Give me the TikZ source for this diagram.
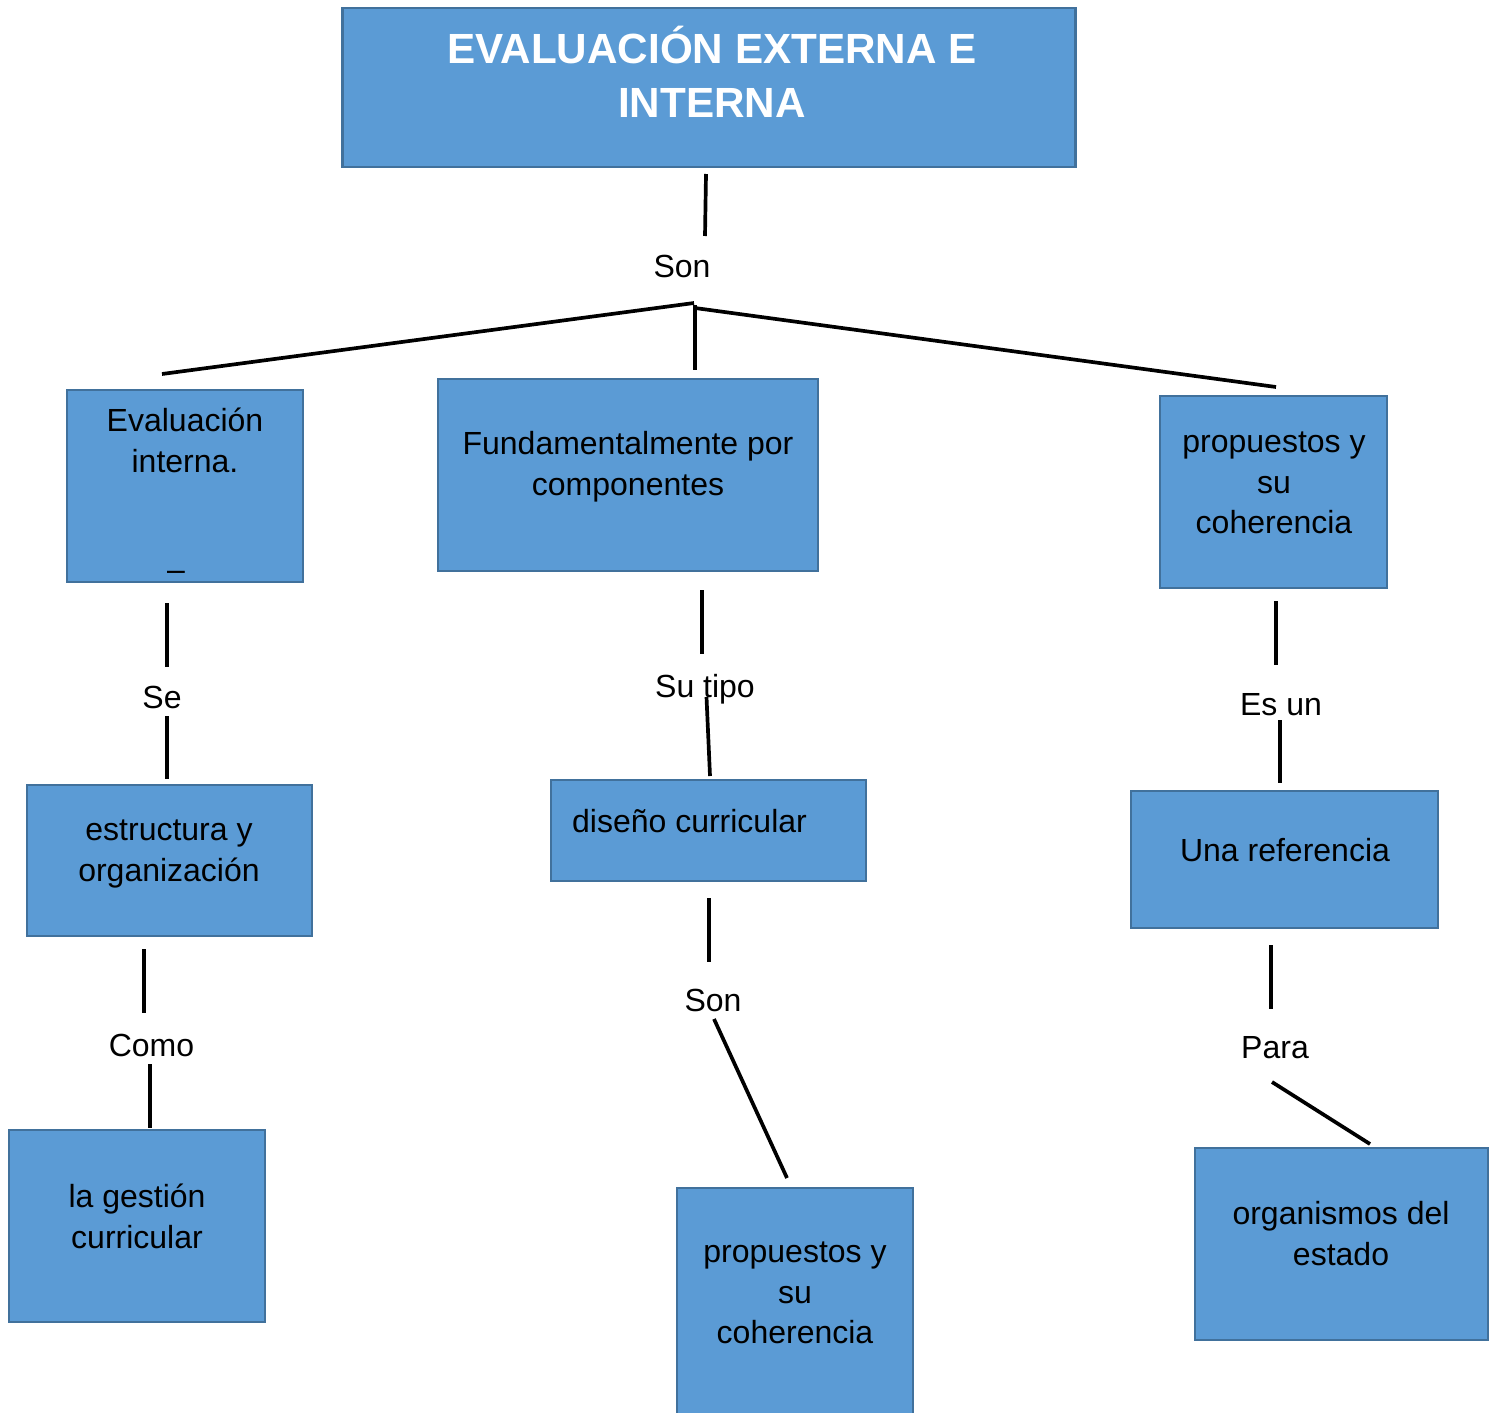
\documentclass[tikz,border=0pt]{standalone}
\usepackage{fontspec}
\setmainfont{Liberation Sans}
\definecolor{azulcaja}{HTML}{5B9BD5}
\definecolor{azulborde}{HTML}{41719C}

\begin{document}
\begin{tikzpicture}[
			x = 0.01cm, y = -0.01cm,
			caja/.style = {draw=azulborde, fill=azulcaja, line width=0.75pt, inner sep=0pt},
			texto/.style = {anchor=north, inner sep=0pt, align=center, font=\fontsize{9.1}{11.6}\selectfont, execute at begin node=\strut},
			etiqueta/.style = {anchor=base, inner sep=0pt, font=\fontsize{9.1}{11.6}\selectfont},
			enlace/.style = {line width=1.05pt}]

			\useasboundingbox (0,0) rectangle (1491,1412);

			\node[caja, minimum width=7.32cm, minimum height=1.59cm] (titulo) at (709,87.5) {};
			\node[caja, minimum width=2.36cm, minimum height=1.92cm] (interna) at (185,486) {};
			\node[caja, minimum width=3.80cm, minimum height=1.92cm] (fundam) at (628,475) {};
			\node[caja, minimum width=2.27cm, minimum height=1.92cm] (propuestosA) at (1273.5,492) {};
			\node[caja, minimum width=2.85cm, minimum height=1.51cm] (estructura) at (169.5,860.5) {};
			\node[caja, minimum width=3.15cm, minimum height=1.01cm] (diseno) at (708.5,830.5) {};
			\node[caja, minimum width=3.07cm, minimum height=1.37cm] (referencia) at (1284.5,859.5) {};
			\node[caja, minimum width=2.56cm, minimum height=1.92cm] (gestion) at (137,1226) {};
			\node[caja, minimum width=2.36cm, minimum height=2.42cm] (propuestosB) at (795,1309) {};
			\node[caja, minimum width=2.93cm, minimum height=1.92cm] (organismos) at (1341.5,1244) {};

			\node[anchor=north, inner sep=0pt, align=center, text=white, font=\fontsize{12}{15.6}\selectfont\bfseries] (t-titulo) at (712,25) {EVALUACIÓN EXTERNA E\\INTERNA};
			\node[texto] (t-interna) at (185,407) {Evaluación\\interna.\\[19.3pt]\kern-0.18cm–};
			\node[texto] (t-fundam) at (628,431) {Fundamentalmente por\\componentes};
			\node[texto] (t-propuestosA) at (1274,431) {propuestos y\\su\\coherencia};
			\node[texto] (t-estructura) at (169,819) {estructura y\\organización};
			\node[texto] (t-diseno) at (689.5,803) {diseño curricular};
			\node[texto] (t-referencia) at (1285,832) {Una referencia};
			\node[texto] (t-gestion) at (137,1183) {la gestión\\curricular};
			\node[texto] (t-propuestosB) at (795,1241) {propuestos y\\su\\coherencia};
			\node[texto] (t-organismos) at (1341,1201) {organismos del\\estado};

			\node[etiqueta] (son1) at (682,277) {Son};
			\node[etiqueta] (se) at (162,708) {Se};
			\node[etiqueta] (sutipo) at (705,697) {Su tipo};
			\node[etiqueta] (son2) at (713,1011) {Son};
			\node[etiqueta] (esun) at (1281,715) {Es un};
			\node[etiqueta] (como) at (151.5,1056) {Como};
			\node[etiqueta] (para) at (1275,1058) {Para};

			\coordinate (a1) at (706,174);   \coordinate (a2) at (705,236);
			\coordinate (b1) at (162,374);   \coordinate (b2) at (694,303);
			\coordinate (b3) at (695,305);   \coordinate (b4) at (695,370);
			\coordinate (b5) at (695,308);   \coordinate (b6) at (1276,387);
			\coordinate (c1) at (167,603);   \coordinate (c2) at (167,667);
			\coordinate (c3) at (167,716);   \coordinate (c4) at (167,779);
			\coordinate (d1) at (702,590);   \coordinate (d2) at (702,654);
			\coordinate (d3) at (706.5,697); \coordinate (d4) at (710,776);
			\coordinate (e1) at (709,898);   \coordinate (e2) at (709,962);
			\coordinate (e3) at (714,1019);  \coordinate (e4) at (787,1178);
			\coordinate (f1) at (1276,601);  \coordinate (f2) at (1276,665);
			\coordinate (f3) at (1280,720);  \coordinate (f4) at (1280,783);
			\coordinate (g1) at (144,949);   \coordinate (g2) at (144,1013);
			\coordinate (g3) at (150,1064);  \coordinate (g4) at (150,1128);
			\coordinate (h1) at (1271,945);  \coordinate (h2) at (1271,1009);
			\coordinate (h3) at (1272,1082); \coordinate (h4) at (1370,1144);

			\draw[enlace] (a1) -- (a2);
			\draw[enlace] (b1) -- (b2);
			\draw[enlace] (b3) -- (b4);
			\draw[enlace] (b5) -- (b6);
			\draw[enlace] (c1) -- (c2);
			\draw[enlace] (c3) -- (c4);
			\draw[enlace] (d1) -- (d2);
			\draw[enlace] (d3) -- (d4);
			\draw[enlace] (e1) -- (e2);
			\draw[enlace] (e3) -- (e4);
			\draw[enlace] (f1) -- (f2);
			\draw[enlace] (f3) -- (f4);
			\draw[enlace] (g1) -- (g2);
			\draw[enlace] (g3) -- (g4);
			\draw[enlace] (h1) -- (h2);
			\draw[enlace] (h3) -- (h4);

		\end{tikzpicture}
\end{document}
